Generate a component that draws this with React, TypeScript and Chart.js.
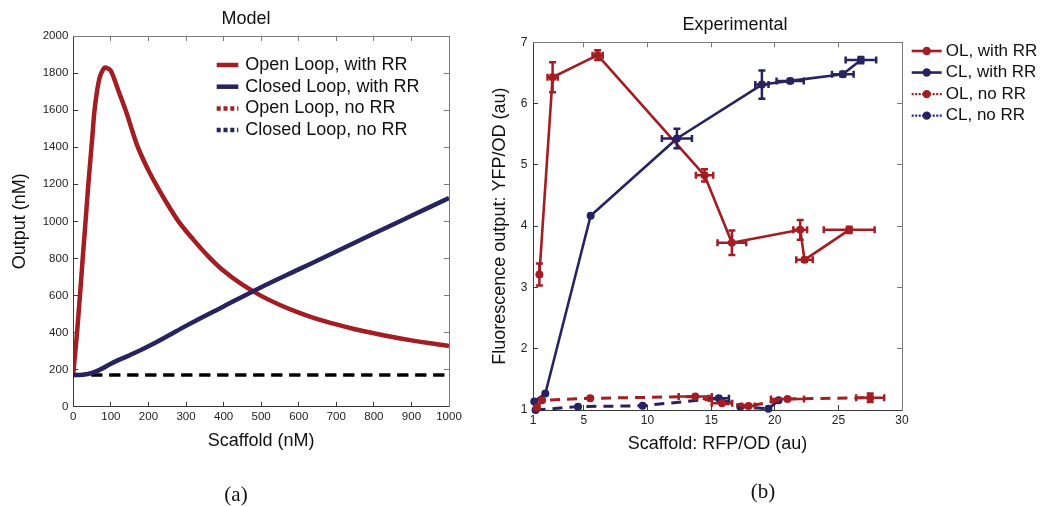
import React, { useEffect, useRef } from "react";
import { Chart, registerables } from "chart.js";

Chart.register(...registerables);

const FONT = "'Liberation Sans', Arial, Helvetica, sans-serif";
const SERIF = "'Liberation Serif', 'DejaVu Serif', serif";
const RED = "#a31d22";
const BLUE = "#26235f";
const BLACK = "#000000";
const AXIS_DARK = "#3a3a3a";
const AXIS_LIGHT = "#7a7a7a";
const TEXT = "#111111";

// ---------------- Panel (a): Model ----------------
const modelTitle = "Model";
const modelXLabel = "Scaffold (nM)";
const modelYLabel = "Output (nM)";
const modelCaption = "(a)";
const modelSeriesNames = [
  "Open Loop, with RR",
  "Closed Loop, with RR",
  "Open Loop, no RR",
  "Closed Loop, no RR",
];
const modelXTicks = [0, 100, 200, 300, 400, 500, 600, 700, 800, 900, 1000];
const modelYTicks = [0, 200, 400, 600, 800, 1000, 1200, 1400, 1600, 1800, 2000];

const openRRScaffold = [0, 5, 10, 15, 20, 25, 30, 40, 50, 56, 63, 70, 78, 85, 92, 100, 120, 140, 170, 200, 220, 250, 280, 320, 360, 400, 450, 500, 550, 600, 650, 700, 750, 800, 850, 900, 950, 1000];
const openRROutput = [180, 290, 400, 530, 660, 800, 930, 1200, 1440, 1590, 1700, 1775, 1815, 1830, 1825, 1812, 1705, 1595, 1410, 1275, 1200, 1095, 1000, 900, 810, 733, 658, 598, 549, 508, 473, 444, 418, 396, 376, 358, 342, 328];

const closedRRScaffold = [0, 25, 50, 75, 100, 150, 200, 250, 300, 400, 500, 600, 700, 800, 900, 1000];
const closedRROutput = [170, 172, 182, 204, 232, 278, 326, 380, 436, 541, 645, 741, 837, 934, 1030, 1126];

const noRRScaffold = [0, 1000];
const openNoRROutput = [171, 171];
const closedNoRROutput = [171, 171];

// ---------------- Panel (b): Experimental ----------------
const expTitle = "Experimental";
const expXLabel = "Scaffold: RFP/OD (au)";
const expYLabel = "Fluorescence output: YFP/OD (au)";
const expCaption = "(b)";
const expSeriesNames = ["OL, with RR", "CL, with RR", "OL, no RR", "CL, no RR"];
const expXTicks = [1, 5, 10, 15, 20, 25, 30];
const expYTicks = [1, 2, 3, 4, 5, 6, 7];

const olRRScaffold = [1.5, 2.54, 6.08, 14.48, 16.63, 22.0, 22.34, 25.85];
const olRROutput = [3.21, 6.43, 6.79, 4.83, 3.73, 3.94, 3.45, 3.94];
const olRRScaffoldErr = [0, 0.4, 0.4, 0.68, 1.13, 0.54, 0.65, 2.0];
const olRROutputErr = [0.18, 0.245, 0.08, 0.1, 0.2, 0.16, 0.03, 0.05];

const clRRScaffold = [1.1, 1.97, 5.53, 12.31, 18.99, 21.21, 25.35, 26.77];
const clRROutput = [1.14, 1.27, 4.17, 5.43, 6.31, 6.37, 6.48, 6.71];
const clRRScaffoldErr = [0, 0, 0, 1.18, 0.52, 1.07, 0.85, 1.2];
const clRROutputErr = [0, 0, 0, 0.16, 0.23, 0.03, 0.04, 0.05];

const olNoRRScaffold = [1.31, 1.71, 5.5, 13.75, 15.85, 17.94, 21.0, 27.5];
const olNoRROutput = [1.04, 1.16, 1.19, 1.22, 1.11, 1.065, 1.18, 1.2];
const olNoRRScaffoldErr = [0, 0, 0, 1.3, 0.8, 0.5, 1.3, 1.1];
const olNoRROutputErr = [0, 0, 0, 0, 0, 0, 0, 0.07];

const clNoRRScaffold = [1.2, 4.54, 9.61, 15.6, 17.29, 19.5, 20.3];
const clNoRROutput = [1.0, 1.055, 1.07, 1.19, 1.055, 1.02, 1.16];
const clNoRRScaffoldErr = [0, 0, 0, 0.8, 0, 0, 0];
const clNoRROutputErr = [0, 0, 0, 0, 0, 0, 0];

// ---------------- helpers ----------------
const pts = (xs: number[], ys: number[]) => xs.map((x, i) => ({ x, y: ys[i] }));

const tickSetter = (values: number[]) => (scale: any) => {
  scale.ticks = values.map((v) => ({ value: v }));
};

type AxisCfg = {
  min: number;
  max: number;
  ticks: number[];
  title: string;
  size: number;
  titlePad: number;
  labelPad: number;
  tickFont: number;
  titleFont: number;
};

function makeScales(x: AxisCfg, y: AxisCfg, topH: number, rightW: number) {
  const grid = (c: string) => ({
    display: true,
    drawOnChartArea: false,
    drawTicks: true,
    tickLength: -5,
    tickColor: c,
    tickWidth: 1,
  });
  const border = (c: string) => ({ display: true, color: c, width: 1 });
  const labels = (size: number, pad: number) => ({
    font: { family: FONT, size },
    color: "#222222",
    padding: pad,
    maxRotation: 0,
    autoSkip: false,
    callback: (v: any) => String(v),
  });
  return {
    x: {
      type: "linear",
      axis: "x",
      position: "bottom",
      min: x.min,
      max: x.max,
      afterBuildTicks: tickSetter(x.ticks),
      ticks: labels(x.tickFont, x.labelPad),
      grid: grid(AXIS_DARK),
      border: border(AXIS_DARK),
      title: {
        display: true,
        text: x.title,
        font: { family: FONT, size: x.titleFont },
        color: TEXT,
        padding: { top: 0, bottom: x.titlePad },
      },
      afterFit: (s: any) => {
        s.height = x.size;
      },
    },
    y: {
      type: "linear",
      axis: "y",
      position: "left",
      min: y.min,
      max: y.max,
      afterBuildTicks: tickSetter(y.ticks),
      ticks: labels(y.tickFont, y.labelPad),
      grid: grid(AXIS_DARK),
      border: border(AXIS_DARK),
      title: {
        display: true,
        text: y.title,
        font: { family: FONT, size: y.titleFont },
        color: TEXT,
        padding: { top: y.titlePad, bottom: 0 },
      },
      afterFit: (s: any) => {
        s.width = y.size;
      },
    },
    x2: {
      type: "linear",
      axis: "x",
      position: "top",
      min: x.min,
      max: x.max,
      afterBuildTicks: tickSetter(x.ticks),
      ticks: { display: false },
      grid: grid(AXIS_LIGHT),
      border: border(AXIS_LIGHT),
      afterFit: (s: any) => {
        s.height = topH;
      },
    },
    y2: {
      type: "linear",
      axis: "y",
      position: "right",
      min: y.min,
      max: y.max,
      afterBuildTicks: tickSetter(y.ticks),
      ticks: { display: false },
      grid: grid(AXIS_LIGHT),
      border: border(AXIS_LIGHT),
      afterFit: (s: any) => {
        s.width = rightW;
      },
    },
  };
}

// error bars drawn through the chart's own scales
const errorBarPlugin = {
  id: "errorBars",
  afterDatasetDraw(chart: any, args: any) {
    const ds = chart.data.datasets[args.index];
    if (!ds || (!ds.errX && !ds.errY)) return;
    const xs = chart.scales.x;
    const ys = chart.scales.y;
    const ctx = chart.ctx;
    const cap = 3.5;
    ctx.save();
    ctx.strokeStyle = ds.borderColor;
    ctx.lineWidth = 2.5;
    ctx.setLineDash([]);
    ds.data.forEach((p: any, j: number) => {
      const ex = ds.errX ? ds.errX[j] : 0;
      const ey = ds.errY ? ds.errY[j] : 0;
      const cx = xs.getPixelForValue(p.x);
      const cy = ys.getPixelForValue(p.y);
      ctx.beginPath();
      if (ey > 0) {
        const y1 = ys.getPixelForValue(p.y - ey);
        const y2 = ys.getPixelForValue(p.y + ey);
        ctx.moveTo(cx, y1);
        ctx.lineTo(cx, y2);
        ctx.moveTo(cx - cap, y1);
        ctx.lineTo(cx + cap, y1);
        ctx.moveTo(cx - cap, y2);
        ctx.lineTo(cx + cap, y2);
      }
      if (ex > 0) {
        const x1 = xs.getPixelForValue(p.x - ex);
        const x2 = xs.getPixelForValue(p.x + ex);
        ctx.moveTo(x1, cy);
        ctx.lineTo(x2, cy);
        ctx.moveTo(x1, cy - cap);
        ctx.lineTo(x1, cy + cap);
        ctx.moveTo(x2, cy - cap);
        ctx.lineTo(x2, cy + cap);
      }
      ctx.stroke();
    });
    ctx.restore();
  },
};

// legend drawn at a chosen spot
const boxLegendPlugin = {
  id: "boxLegend",
  afterDraw(chart: any, _args: any, opts: any) {
    if (!opts || !opts.items) return;
    const ctx = chart.ctx;
    ctx.save();
    ctx.font = `${opts.fontSize}px ${FONT}`;
    ctx.textBaseline = "middle";
    ctx.textAlign = "left";
    const n = opts.items.length;
    for (let i = 0; i < n; i++) {
      const it = opts.items[i];
      const y = opts.y + i * opts.rowHeight;
      ctx.strokeStyle = it.color;
      ctx.lineWidth = it.lineWidth;
      ctx.lineCap = "butt";
      ctx.setLineDash(it.dash ? Array.from(it.dash) : []);
      ctx.beginPath();
      ctx.moveTo(opts.x, y);
      ctx.lineTo(opts.x + opts.lineLength, y);
      ctx.stroke();
      if (it.marker) {
        ctx.setLineDash([]);
        ctx.fillStyle = it.color;
        ctx.beginPath();
        ctx.arc(opts.x + opts.lineLength / 2, y, it.marker, 0, Math.PI * 2);
        ctx.fill();
      }
      ctx.fillStyle = opts.color;
      ctx.fillText(it.label, opts.x + opts.lineLength + opts.gap, y);
    }
    ctx.restore();
  },
};

function buildModelConfig(): any {
  return {
    type: "scatter",
    data: {
      datasets: [
        {
          label: modelSeriesNames[0],
          data: pts(openRRScaffold, openRROutput),
          showLine: true,
          borderColor: RED,
          backgroundColor: RED,
          borderWidth: 4.5,
          pointRadius: 0,
          cubicInterpolationMode: "monotone",
          borderJoinStyle: "round",
          order: 1,
        },
        {
          label: modelSeriesNames[1],
          data: pts(closedRRScaffold, closedRROutput),
          showLine: true,
          borderColor: BLUE,
          backgroundColor: BLUE,
          borderWidth: 4.5,
          pointRadius: 0,
          cubicInterpolationMode: "monotone",
          borderJoinStyle: "round",
          order: 0,
        },
        {
          label: modelSeriesNames[2],
          data: pts(noRRScaffold, openNoRROutput),
          showLine: true,
          borderColor: BLACK,
          borderWidth: 3,
          borderDash: [11, 7],
          pointRadius: 0,
          order: 3,
        },
        {
          label: modelSeriesNames[3],
          data: pts(noRRScaffold, closedNoRROutput),
          showLine: true,
          borderColor: BLACK,
          borderWidth: 3,
          borderDash: [11, 7],
          pointRadius: 0,
          order: 2,
        },
      ],
    },
    options: {
      responsive: false,
      animation: false,
      devicePixelRatio: 1,
      events: [],
      layout: { padding: { left: 0, right: 0, top: 0, bottom: 40 } },
      scales: makeScales(
        { min: 0, max: 1000, ticks: modelXTicks, title: modelXLabel, size: 59.3, titlePad: 14.2, labelPad: 8.4, tickFont: 11.5, titleFont: 18 },
        { min: 0, max: 2000, ticks: modelYTicks, title: modelYLabel, size: 73.3, titlePad: 9.7, labelPad: 10, tickFont: 11.5, titleFont: 18 },
        0,
        43
      ),
      plugins: {
        legend: { display: false },
        tooltip: { enabled: false },
        title: {
          display: true,
          text: modelTitle,
          color: TEXT,
          font: { family: FONT, size: 18, weight: "normal" },
          padding: { top: 8.2, bottom: 6.2 },
        },
        boxLegend: {
          x: 216.7,
          y: 65,
          rowHeight: 21.7,
          lineLength: 21.6,
          gap: 7,
          fontSize: 18,
          color: TEXT,
          items: [
            { label: modelSeriesNames[0], color: RED, lineWidth: 4.5, dash: [] },
            { label: modelSeriesNames[1], color: BLUE, lineWidth: 4.5, dash: [] },
            { label: modelSeriesNames[2], color: RED, lineWidth: 4.5, dash: [4, 2.8] },
            { label: modelSeriesNames[3], color: BLUE, lineWidth: 4.5, dash: [4, 2.8] },
          ],
        },
      },
    },
    plugins: [boxLegendPlugin],
  };
}

function buildExpConfig(): any {
  const common = {
    showLine: true,
    pointRadius: 4,
    pointBorderWidth: 0,
    pointHoverRadius: 4,
    clip: false,
    tension: 0,
    borderJoinStyle: "round",
  };
  return {
    type: "scatter",
    data: {
      datasets: [
        {
          ...common,
          label: expSeriesNames[0],
          data: pts(olRRScaffold, olRROutput),
          errX: olRRScaffoldErr,
          errY: olRROutputErr,
          borderColor: RED,
          backgroundColor: RED,
          pointBackgroundColor: RED,
          borderWidth: 2.6,
          order: 3,
        },
        {
          ...common,
          label: expSeriesNames[1],
          data: pts(clRRScaffold, clRROutput),
          errX: clRRScaffoldErr,
          errY: clRROutputErr,
          borderColor: BLUE,
          backgroundColor: BLUE,
          pointBackgroundColor: BLUE,
          borderWidth: 2.6,
          order: 2,
        },
        {
          ...common,
          label: expSeriesNames[2],
          data: pts(olNoRRScaffold, olNoRROutput),
          errX: olNoRRScaffoldErr,
          errY: olNoRROutputErr,
          borderColor: RED,
          backgroundColor: RED,
          pointBackgroundColor: RED,
          borderWidth: 3,
          borderDash: [10, 7],
          order: 0,
        },
        {
          ...common,
          label: expSeriesNames[3],
          data: pts(clNoRRScaffold, clNoRROutput),
          errX: clNoRRScaffoldErr,
          errY: clNoRROutputErr,
          borderColor: BLUE,
          backgroundColor: BLUE,
          pointBackgroundColor: BLUE,
          borderWidth: 3,
          borderDash: [10, 7],
          order: 1,
        },
      ],
    },
    options: {
      responsive: false,
      animation: false,
      devicePixelRatio: 1,
      events: [],
      layout: { padding: { left: 0, right: 42, top: 0, bottom: 40 } },
      scales: makeScales(
        { min: 1, max: 30, ticks: expXTicks, title: expXLabel, size: 56, titlePad: 11.2, labelPad: 8.4, tickFont: 12, titleFont: 18 },
        { min: 1, max: 7, ticks: expYTicks, title: expYLabel, size: 63, titlePad: 18.9, labelPad: 10.7, tickFont: 12, titleFont: 18 },
        0,
        98
      ),
      plugins: {
        legend: { display: false },
        tooltip: { enabled: false },
        title: {
          display: true,
          text: expTitle,
          color: TEXT,
          font: { family: FONT, size: 18, weight: "normal" },
          padding: { top: 14.2, bottom: 6.5 },
        },
        boxLegend: {
          x: 441.7,
          y: 51,
          rowHeight: 21.55,
          lineLength: 30,
          gap: 4,
          fontSize: 17,
          color: TEXT,
          items: [
            { label: expSeriesNames[0], color: RED, lineWidth: 2.6, dash: [], marker: 4.2 },
            { label: expSeriesNames[1], color: BLUE, lineWidth: 2.6, dash: [], marker: 4.2 },
            { label: expSeriesNames[2], color: RED, lineWidth: 2.2, dash: [2, 1.5], marker: 4.2 },
            { label: expSeriesNames[3], color: BLUE, lineWidth: 2.2, dash: [2, 1.5], marker: 4.2 },
          ],
        },
      },
    },
    plugins: [errorBarPlugin, boxLegendPlugin],
  };
}

function ChartCanvas(props: { width: number; height: number; left: number; build: () => any }) {
  const ref = useRef<HTMLCanvasElement | null>(null);
  useEffect(() => {
    if (!ref.current) return;
    const chart = new Chart(ref.current, props.build());
    return () => {
      chart.destroy();
    };
  }, []);
  return (
    <canvas
      ref={ref}
      width={props.width}
      height={props.height}
      style={{ position: "absolute", left: props.left, top: 0, width: props.width, height: props.height }}
    />
  );
}

function Caption(props: { text: string; x: number; y: number }) {
  return (
    <div
      style={{
        position: "absolute",
        left: props.x,
        top: props.y,
        transform: "translate(-50%, -50%)",
        fontFamily: SERIF,
        fontSize: 21,
        lineHeight: 1,
        color: TEXT,
        whiteSpace: "nowrap",
      }}
    >
      {props.text}
    </div>
  );
}

export default function App() {
  return (
    <div
      style={{
        position: "fixed",
        left: 0,
        top: 0,
        width: 1042,
        height: 506,
        background: "#ffffff",
        overflow: "hidden",
      }}
    >
      <ChartCanvas width={492} height={506} left={0} build={buildModelConfig} />
      <ChartCanvas width={572} height={506} left={470} build={buildExpConfig} />
      <Caption text={modelCaption} x={236} y={494} />
      <Caption text={expCaption} x={763} y={491} />
    </div>
  );
}
